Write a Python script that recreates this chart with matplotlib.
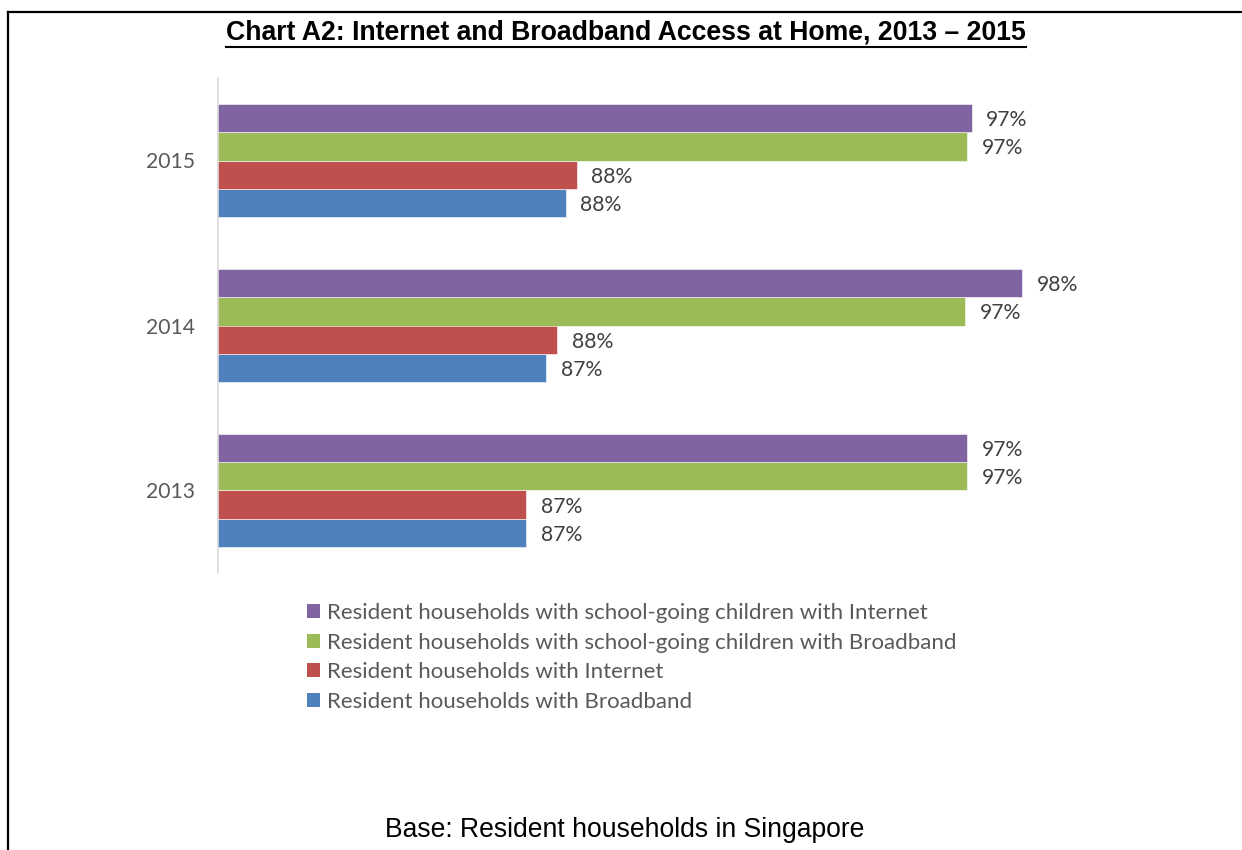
import numpy as np
import matplotlib
matplotlib.use('Agg')
import matplotlib.pyplot as plt
from matplotlib.lines import Line2D
from matplotlib.patches import Patch

# data (axis starts at 80%)
years = ['2013', '2014', '2015']
broadband = [87.0, 87.45, 87.9]
internet = [87.0, 87.7, 88.15]
school_broadband = [97.0, 96.95, 97.0]
school_internet = [97.0, 98.25, 97.1]

series_names = ['Resident households with Broadband',
                'Resident households with Internet',
                'Resident households with school-going children with Broadband',
                'Resident households with school-going children with Internet']
series_colors = ['#4F81BD', '#C0504D', '#9BBB59', '#8064A2']

W, H = 1242, 850
fig = plt.figure(figsize=(W / 100, H / 100), dpi=100)
ax = fig.add_axes([217.5 / W, 1 - 573 / H, 882 / W, 495 / H])

y = np.arange(len(years))
h = 0.172
allSeries = [broadband, internet, school_broadband, school_internet]
for k, (vals, col) in enumerate(zip(allSeries, series_colors)):
    pos = y + (k - 1.5) * h
    ax.barh(pos, vals, height=h, color=col, edgecolor='white', linewidth=0.4, label=series_names[k])
    for p, v in zip(pos, vals):
        ax.annotate(f'{v:.0f}%', xy=(v, p), xytext=(10.5, -1.5), textcoords='offset points',
                    va='center', ha='left', fontsize=15.2, color='#404040', family='Lato')

ax.set_xlim(80, 100)
ax.set_ylim(-0.5, 2.5)
ax.set_yticks(y)
ax.set_yticklabels(years, fontsize=15.2, color='#595959', family='Lato')
ax.tick_params(axis='y', length=0, pad=16)
ax.set_xticks([])
for s in ['top', 'right', 'bottom']:
    ax.spines[s].set_visible(False)
ax.spines['left'].set_color('#d9d9d9')
ax.spines['left'].set_linewidth(1.2)

# legend, purple on top
handles = [Patch(facecolor=c) for c in series_colors][::-1]
leg = fig.legend(handles, series_names[::-1], loc='upper left',
                 bbox_to_anchor=(307 / W, 1 - 603 / H), frameon=False,
                 prop={'family': 'Lato', 'size': 16}, handlelength=0.6, handleheight=0.6,
                 handletextpad=0.3, labelspacing=0.43, borderpad=0, borderaxespad=0)
for t in leg.get_texts():
    t.set_color('#595959')

title = fig.text(626 / W, 1 - 33 / H, 'Chart A2: Internet and Broadband Access at Home, 2013 \u2013 2015',
                 ha='center', va='center', fontsize=19.2, fontweight='bold', family='Liberation Sans')
fig.text(625 / W, 1 - 830 / H, 'Base: Resident households in Singapore',
         ha='center', va='center', fontsize=19.1, family='Liberation Sans')

# underline the title
fig.canvas.draw()
bb = title.get_window_extent(renderer=fig.canvas.get_renderer())
uy = (bb.y0 - 1) / H
fig.add_artist(Line2D([bb.x0 / W, bb.x1 / W], [uy, uy], color='black', linewidth=1.5))

# page frame
fig.add_artist(Line2D([8 / W, 8 / W], [0, 1 - 12 / H], color='black', linewidth=1.6))
fig.add_artist(Line2D([8 / W, 1], [1 - 12 / H, 1 - 12 / H], color='black', linewidth=1.6))

fig.savefig('out.png', dpi=100)
